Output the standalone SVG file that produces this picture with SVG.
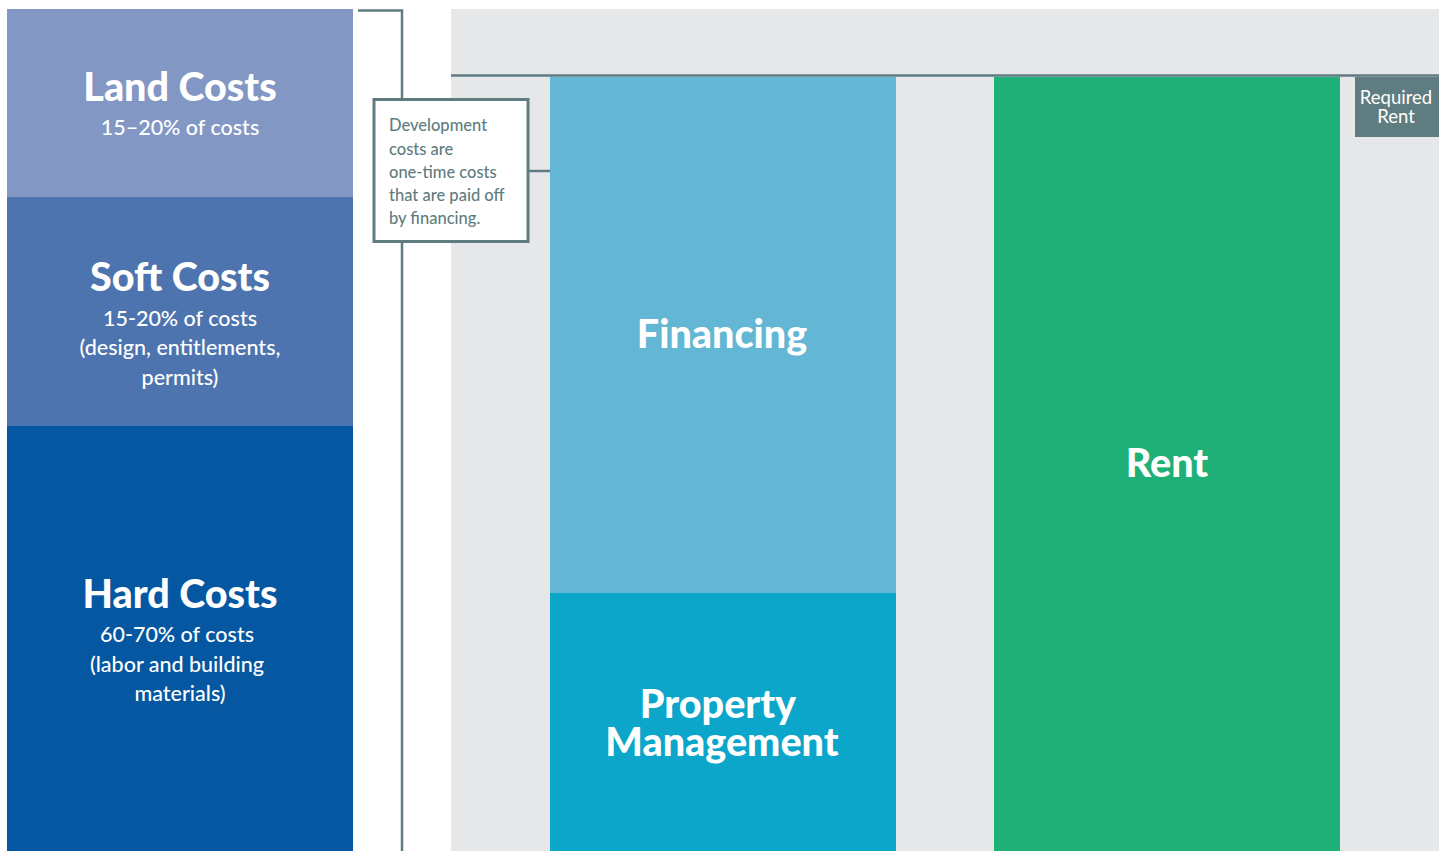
<svg xmlns="http://www.w3.org/2000/svg" width="1445" height="851" viewBox="0 0 1445 851">
<style>
.t{font-family:Lato,"Noto Sans","Liberation Sans",sans-serif;font-weight:900;fill:#fff;text-anchor:middle;font-size:39.5px}
.s{font-family:Lato,"Noto Sans","Liberation Sans",sans-serif;font-weight:500;fill:#fff;text-anchor:middle;font-size:21.5px}
.c{font-family:Lato,"Noto Sans","Liberation Sans",sans-serif;font-weight:500;fill:#5f7d80;font-size:16.5px}
.r{font-family:Lato,"Noto Sans","Liberation Sans",sans-serif;font-weight:400;fill:#fff;text-anchor:middle;font-size:18.5px}
.ln{stroke:#5f7d80;stroke-width:2.5;fill:none}
</style>
<rect width="1445" height="851" fill="#fff"/>
<rect x="451" y="9" width="988" height="842" fill="#e6e7e9"/>
<g id="land"><rect x="7" y="9" width="346" height="188" fill="#8397c4"/>
<text class="t" x="180" y="101">Land Costs</text>
<text class="s" x="180" y="135">15–20% of costs</text></g>
<g id="soft"><rect x="7" y="197" width="346" height="229" fill="#4d74ae"/>
<text class="t" x="180" y="291">Soft Costs</text>
<text class="s" x="180" y="326">15-20% of costs</text>
<text class="s" x="180" y="355">(design, entitlements,</text>
<text class="s" x="180" y="385">permits)</text></g>
<g id="hard"><rect x="7" y="426" width="346" height="425" fill="#0457a0"/>
<text class="t" x="180" y="608">Hard Costs</text>
<text class="s" x="177" y="642">60-70% of costs</text>
<text class="s" x="177" y="672">(labor and building</text>
<text class="s" x="180" y="701">materials)</text></g>
<g id="financing"><rect x="550" y="77" width="346" height="516" fill="#63b7d4"/>
<text class="t" x="722" y="348">Financing</text></g>
<g id="property"><rect x="550" y="593" width="346" height="258" fill="#0ba6c9"/>
<text class="t" x="718" y="718">Property</text>
<text class="t" x="722" y="756">Management</text></g>
<g id="rent"><rect x="994" y="77" width="346" height="774" fill="#1eb077"/>
<text class="t" x="1167" y="477">Rent</text></g>
<g id="required"><rect x="1355" y="77" width="84" height="60" fill="#5f7d80"/>
<text class="r" x="1396" y="104">Required</text>
<text class="r" x="1396" y="123">Rent</text></g>
<g id="connectors">
<path class="ln" d="M358 10.5H402V851"/>
<path class="ln" d="M451 75.5H1439"/>
<path class="ln" d="M529 171H550"/>
</g>
<g id="callout"><rect x="374" y="99.5" width="154" height="142" fill="#fff" stroke="#5f7d80" stroke-width="3"/>
<text class="c" x="389" y="131">Development</text>
<text class="c" x="389" y="155">costs are</text>
<text class="c" x="389" y="178">one-time costs</text>
<text class="c" x="389" y="201">that are paid off</text>
<text class="c" x="389" y="224">by financing.</text></g>
</svg>
